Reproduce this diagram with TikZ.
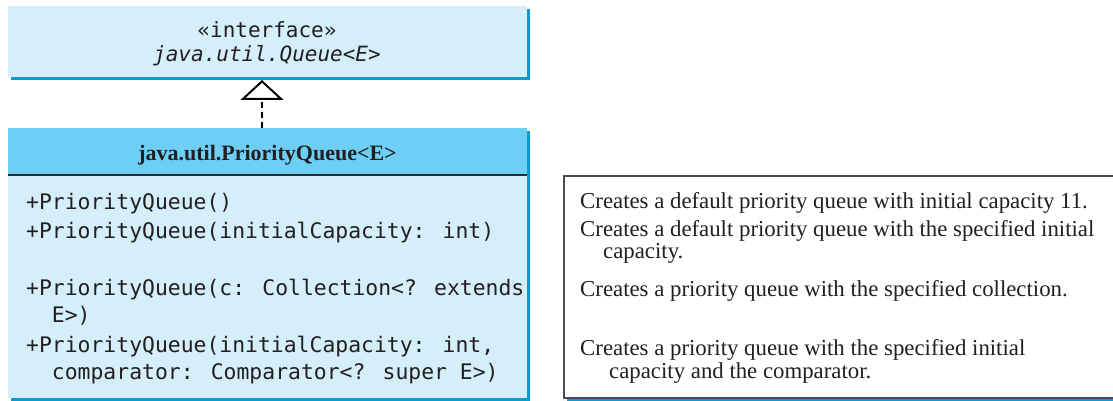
\documentclass[tikz,border=0pt]{standalone}
\usepackage{fontspec}
\setmainfont{Liberation Serif}
\newfontfamily\umlmono{DejaVu Sans Mono}
\usetikzlibrary{arrows.meta,shadows}
\definecolor{lightfill}{HTML}{D4EEFA}
\definecolor{headfill}{HTML}{6DCFF6}
\definecolor{shadowc}{HTML}{0A9CCF}
\definecolor{rulec}{HTML}{2B2B2B}
\definecolor{textc}{HTML}{231F20}
\tikzset{
  umlshadow/.style={drop shadow={shadow xshift=3pt, shadow yshift=-3pt, fill=shadowc, opacity=1}},
  boxbase/.style={anchor=north west, inner sep=0pt, outer sep=0pt, draw=none},
  ifacebox/.style={boxbase, fill=lightfill, umlshadow},
  headbox/.style={boxbase, fill=headfill, umlshadow},
  bodybox/.style={boxbase, fill=lightfill, umlshadow},
  descbox/.style={boxbase, fill=white, draw=black!70, line width=1.1pt, umlshadow},
  monotxt/.style={anchor=base west, inner sep=0pt, text=textc, font=\umlmono\fontsize{21.4}{25}\selectfont},
  serittxt/.style={anchor=base west, inner sep=0pt, text=textc, font=\fontsize{22.8}{26}\selectfont},
  ifacetxt/.style={anchor=base, inner sep=0pt, text=textc, font=\umlmono\fontsize{21}{25}\selectfont},
  headtxt/.style={anchor=base, inner sep=0pt, text=textc, font=\bfseries\fontsize{22}{26}\selectfont},
  implarrow/.style={draw=black, line width=2.4pt, dash pattern=on 6pt off 4pt,
    -{Triangle[open, length=20pt, width=43pt, line width=2pt, fill=white]}},
}
\begin{document}
\begin{tikzpicture}[x=1pt,y=-1pt]
\useasboundingbox (0,0) rectangle (1113,401);
% interface box
\node[ifacebox, minimum width=519pt, minimum height=71pt] (iface) at (8,6) {};
\node[ifacetxt] (stereo) at (267,38) {«interface»};
\node[ifacetxt] (iname) at (267,62) {\itshape java.util.Queue<E>};
% class box
\node[headbox, minimum width=519pt, minimum height=47pt] (clshead) at (8,128) {};
\node[bodybox, minimum width=519pt, minimum height=223pt] (clsbody) at (8,175) {};
\draw[rulec, line width=1.6pt] (clshead.south west) -- (clshead.south east);
\node[headtxt] (cname) at (267.5,160) {java.util.PriorityQueue<E>};
% methods
\node[monotxt] (m1) at (26,209) {+PriorityQueue()};
\node[monotxt] (m2) at (26,238) {+PriorityQueue(initialCapacity: int)};
\node[monotxt] (m3) at (26,295) {+PriorityQueue(c: Collection<? extends};
\node[monotxt] (m3b) at (26,322) {\ \ E>)};
\node[monotxt] (m4) at (26,352) {+PriorityQueue(initialCapacity: int,};
\node[monotxt] (m4b) at (26,379) {\ \ comparator: Comparator<? super E>)};
% description box
\node[descbox, minimum width=552pt, minimum height=222pt] (desc) at (564,176) {};
\node[serittxt] (d1) at (580,208) {Creates a default priority queue with initial capacity 11.};
\node[serittxt] (d2) at (580,236) {Creates a default priority queue with the specified initial};
\node[serittxt] (d2b) at (603,258) {capacity.};
\node[serittxt] (d3) at (580,296) {Creates a priority queue with the specified collection.};
\node[serittxt] (d4) at (580,355) {Creates a priority queue with the specified initial};
\node[serittxt] (d4b) at (609,378) {capacity and the comparator.};
% realization arrow
\coordinate (ax) at (262,0);
\draw[implarrow, shorten >=3pt] (clshead.north -| ax) -- (iface.south -| ax);
\end{tikzpicture}
\end{document}
